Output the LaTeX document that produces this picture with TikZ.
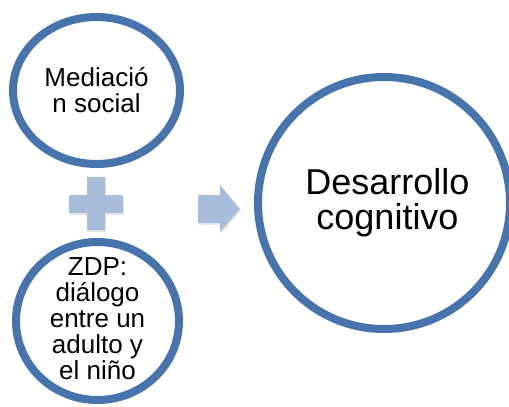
\documentclass[tikz,border=0pt]{standalone}
\usepackage{fontspec}
\setmainfont{Liberation Sans}
\usetikzlibrary{shapes.geometric,shadows}
\definecolor{ringblue}{RGB}{71,116,172}
\definecolor{lightblue}{RGB}{168,189,220}
\begin{document}
\begin{tikzpicture}[x=1pt,y=-1pt,
  ring/.style={ellipse, draw=ringblue, line width=8pt, fill=white, inner sep=0pt,
     drop shadow={opacity=0.18, shadow xshift=0pt, shadow yshift=-3pt}},
  smalltxt/.style={align=center, font=\fontsize{26}{26}\selectfont, inner sep=0pt},
  bigtxt/.style={align=center, font=\fontsize{36}{35}\selectfont, inner sep=0pt},
  shapefill/.style={fill=lightblue, drop shadow={opacity=0.18, shadow xshift=1pt, shadow yshift=-2pt}}]
\useasboundingbox (0,0) rectangle (509,407);
% plus sign
\path[shapefill] (87,177) -- (105,177) -- (105,195) -- (123,195) -- (123,213) -- (105,213)
  -- (105,230) -- (87,230) -- (87,213) -- (69,213) -- (69,195) -- (87,195) -- cycle;
% arrow
\path[shapefill] (198,195) -- (220,195) -- (220,185) -- (240,209) -- (220,232) -- (220,223)
  -- (198,223) -- cycle;
% circles
\node[ring, minimum width=167pt, minimum height=147pt] (c1) at (96.5,90.5) {};
\node[smalltxt] (t1) at (c1) {Mediació\\n social};
\node[ring, minimum width=163pt, minimum height=158pt] (c2) at (97.5,321) {};
\node[smalltxt] (t2) at (97.5,319) {ZDP:\\diálogo\\entre un\\adulto y\\el niño};
\node[ring, minimum size=252pt] (c3) at (384,203) {};
\node[bigtxt] (t3) at (387.5,203) {Desarrollo\\cognitivo};
\end{tikzpicture}
\end{document}
